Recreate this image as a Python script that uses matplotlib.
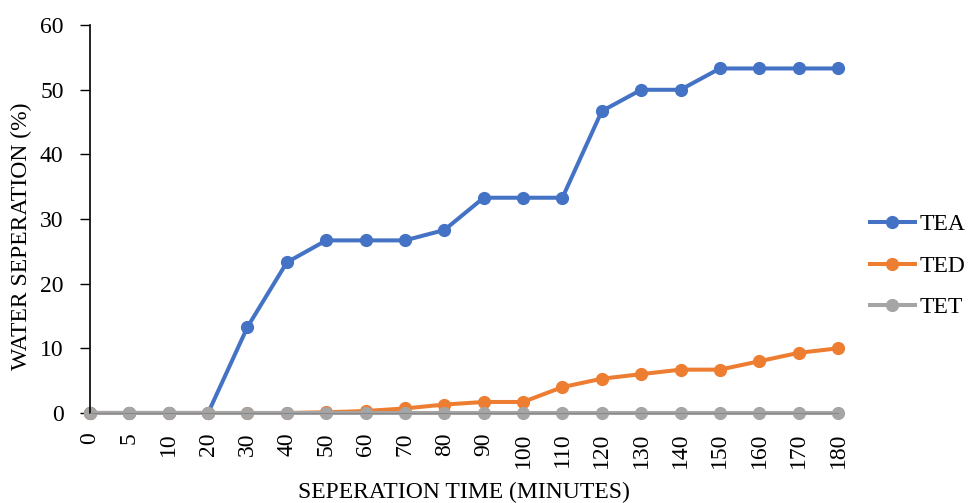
import numpy as np
import matplotlib.pyplot as plt

plt.rcParams['font.family'] = ['Liberation Serif', 'DejaVu Serif']

times = ['0', '5', '10', '20', '30', '40', '50', '60', '70', '80', '90',
         '100', '110', '120', '130', '140', '150', '160', '170', '180']
tea = [0, 0, 0, 0, 13.3, 23.3, 26.7, 26.7, 26.7, 28.3, 33.3, 33.3, 33.3,
       46.7, 50, 50, 53.3, 53.3, 53.3, 53.3]
ted = [0, 0, 0, 0, 0, 0, 0.1, 0.3, 0.7, 1.3, 1.7, 1.7, 4, 5.3, 6, 6.7,
       6.7, 8, 9.3, 10]
tet = [0] * 20

fig = plt.figure(figsize=(9.71, 5.03), dpi=100)
ax = fig.add_axes([0.0927, 0.179, 0.7703, 0.771])

x = np.arange(len(times))
ax.plot(x, tea, color='#4472C4', lw=2.9, marker='o', ms=8.5, label='TEA', clip_on=False)
ax.plot(x, ted, color='#ED7D31', lw=2.9, marker='o', ms=8.5, label='TED', clip_on=False)
ax.plot(x, tet, color='#A5A5A5', lw=2.9, marker='o', ms=8.5, label='TET', clip_on=False)

ax.set_xlim(0, len(times) - 1)
ax.set_ylim(0, 60)
ax.set_yticks(range(0, 61, 10))
ax.set_xticks(x)
ax.set_xticklabels(times, rotation=90)
ax.tick_params(axis='y', labelsize=17, direction='out', length=7, width=1, pad=12)
ax.tick_params(axis='x', labelsize=17, direction='out', length=4, width=1, pad=10)

for s in ['top', 'right']:
    ax.spines[s].set_visible(False)
ax.spines['left'].set_linewidth(1.2)
ax.spines['bottom'].set_color('#888888')

ax.set_xlabel('SEPERATION TIME (MINUTES)', fontsize=17, labelpad=10)
ax.set_ylabel('WATER SEPERATION (%)', fontsize=17)
ax.yaxis.set_label_coords(-0.078, 0.456)

# legend placed in figure coordinates to the right of the plot area
fig.legend(loc='center left', bbox_to_anchor=(0.896, 0.471), frameon=False,
           fontsize=17, handlelength=1.9, labelspacing=0.85, handletextpad=0.2,
           borderpad=0, borderaxespad=0)

fig.savefig('out.png', dpi=100)
